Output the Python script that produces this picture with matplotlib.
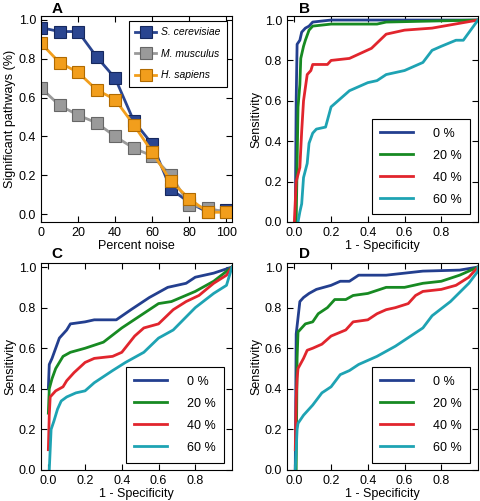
import numpy as np
import matplotlib
matplotlib.use('Agg')
import matplotlib.pyplot as plt

plt.rcParams['font.family'] = ['Liberation Sans', 'DejaVu Sans']
plt.rcParams['font.size'] = 9
plt.rcParams['xtick.direction'] = 'in'
plt.rcParams['ytick.direction'] = 'in'
plt.rcParams['xtick.top'] = True
plt.rcParams['ytick.right'] = True
plt.rcParams['xtick.major.size'] = 4
plt.rcParams['ytick.major.size'] = 4

# panel A
noise = [0, 10, 20, 30, 40, 50, 60, 70, 80, 90, 100]
s_cer = [0.96, 0.94, 0.94, 0.81, 0.70, 0.48, 0.36, 0.13, 0.06, 0.01, 0.02]
m_mus = [0.65, 0.56, 0.51, 0.47, 0.40, 0.34, 0.30, 0.20, 0.05, 0.03, 0.01]
h_sap = [0.88, 0.78, 0.73, 0.64, 0.59, 0.46, 0.32, 0.17, 0.08, 0.01, 0.01]

noise_labels = ['0 %', '20 %', '40 %', '60 %']
roc_colors = ['#233f8f', '#178a22', '#e1252d', '#1ea3b3']

# panel B: (1 - specificity, sensitivity)
b_fpr = [
    [0.005, 0.01, 0.015, 0.03, 0.04, 0.06, 0.08, 0.10, 0.20, 1.0],
    [0.01, 0.02, 0.03, 0.035, 0.05, 0.06, 0.08, 0.10, 0.20, 0.45, 0.50, 1.0],
    [0.0, 0.01, 0.03, 0.04, 0.05, 0.07, 0.09, 0.10, 0.18, 0.20, 0.30, 0.42, 0.50, 0.60, 0.75, 1.0],
    [0.02, 0.03, 0.04, 0.05, 0.07, 0.08, 0.10, 0.12, 0.17, 0.20, 0.25, 0.30, 0.40, 0.45,
     0.50, 0.60, 0.70, 0.75, 0.80, 0.88, 0.92, 1.0],
]
b_tpr = [
    [0.0, 0.60, 0.88, 0.90, 0.94, 0.96, 0.97, 0.99, 1.0, 1.0],
    [0.0, 0.57, 0.68, 0.81, 0.87, 0.90, 0.95, 0.97, 0.98, 0.98, 0.99, 1.0],
    [0.0, 0.20, 0.27, 0.45, 0.60, 0.73, 0.75, 0.78, 0.78, 0.80, 0.81, 0.86, 0.93, 0.95, 0.96, 1.0],
    [0.0, 0.05, 0.09, 0.22, 0.29, 0.39, 0.44, 0.46, 0.47, 0.57, 0.61, 0.65, 0.69, 0.70,
     0.73, 0.75, 0.79, 0.85, 0.87, 0.90, 0.90, 1.0],
]

# panel C
c_fpr = [
    [0.0, 0.005, 0.02, 0.04, 0.06, 0.08, 0.10, 0.12, 0.20, 0.25, 0.37, 0.45, 0.55, 0.65,
     0.75, 0.80, 0.90, 1.0],
    [0.0, 0.005, 0.02, 0.04, 0.06, 0.08, 0.12, 0.20, 0.30, 0.40, 0.50, 0.60, 0.67, 0.80,
     0.90, 1.0],
    [0.0, 0.005, 0.01, 0.04, 0.08, 0.10, 0.14, 0.20, 0.25, 0.35, 0.40, 0.47, 0.52, 0.60,
     0.68, 0.75, 0.82, 0.90, 0.97, 1.0],
    [0.005, 0.01, 0.015, 0.03, 0.05, 0.07, 0.10, 0.15, 0.20, 0.25, 0.35, 0.42, 0.52, 0.60,
     0.68, 0.80, 0.90, 0.97, 1.0],
]
c_tpr = [
    [0.40, 0.52, 0.55, 0.60, 0.65, 0.67, 0.69, 0.72, 0.73, 0.74, 0.74, 0.79, 0.85, 0.90,
     0.92, 0.95, 0.97, 1.0],
    [0.28, 0.40, 0.45, 0.50, 0.53, 0.56, 0.58, 0.60, 0.63, 0.70, 0.76, 0.82, 0.83, 0.88,
     0.93, 1.0],
    [0.10, 0.27, 0.36, 0.39, 0.41, 0.44, 0.48, 0.53, 0.55, 0.56, 0.58, 0.66, 0.70, 0.72,
     0.79, 0.83, 0.86, 0.92, 0.96, 1.0],
    [0.0, 0.10, 0.20, 0.24, 0.30, 0.34, 0.36, 0.38, 0.39, 0.43, 0.49, 0.53, 0.58, 0.65,
     0.69, 0.80, 0.87, 0.91, 1.0],
]

# panel D
d_fpr = [
    [0.005, 0.01, 0.02, 0.03, 0.05, 0.08, 0.12, 0.20, 0.25, 0.30, 0.35, 0.50, 0.60, 0.70,
     0.90, 1.0],
    [0.01, 0.015, 0.02, 0.04, 0.06, 0.10, 0.13, 0.18, 0.22, 0.28, 0.32, 0.40, 0.50, 0.60,
     0.70, 0.80, 0.90, 1.0],
    [0.005, 0.01, 0.015, 0.02, 0.05, 0.07, 0.10, 0.15, 0.20, 0.28, 0.32, 0.40, 0.45, 0.50,
     0.55, 0.62, 0.66, 0.70, 0.80, 0.88, 0.95, 1.0],
    [0.005, 0.01, 0.015, 0.02, 0.05, 0.10, 0.15, 0.20, 0.25, 0.30, 0.35, 0.45, 0.55, 0.65,
     0.70, 0.75, 0.85, 0.95, 1.0, 1.0],
]
d_tpr = [
    [0.0, 0.67, 0.75, 0.83, 0.85, 0.87, 0.89, 0.91, 0.93, 0.93, 0.96, 0.96, 0.97, 0.98,
     0.985, 1.0],
    [0.0, 0.55, 0.68, 0.70, 0.72, 0.73, 0.77, 0.80, 0.84, 0.84, 0.86, 0.87, 0.90, 0.90,
     0.92, 0.93, 0.96, 1.0],
    [0.10, 0.35, 0.45, 0.50, 0.55, 0.59, 0.60, 0.62, 0.66, 0.69, 0.73, 0.74, 0.77, 0.79,
     0.80, 0.82, 0.86, 0.88, 0.89, 0.91, 0.95, 1.0],
    [0.0, 0.10, 0.20, 0.23, 0.27, 0.32, 0.38, 0.41, 0.47, 0.49, 0.52, 0.56, 0.61, 0.67,
     0.70, 0.76, 0.83, 0.92, 0.98, 1.0],
]

W, H = 481, 501
fig = plt.figure(figsize=(W / 100, H / 100), dpi=100)


def box(l, t, r, b):
    return [l / W, 1 - b / H, (r - l) / W, (b - t) / H]


axA = fig.add_axes(box(41, 16, 232, 222))
axB = fig.add_axes(box(287, 16, 478, 222))
axC = fig.add_axes(box(41, 263, 232, 470))
axD = fig.add_axes(box(287, 263, 478, 470))

series = [(s_cer, 'S. cerevisiae', '#2a4590', '#16285e'),
          (m_mus, 'M. musculus', '#9a9a9a', '#666666'),
          (h_sap, 'H. sapiens', '#f29e1c', '#b06a00')]
for vals, lab, col, ec in series:
    axA.plot(noise, vals, '-s', color=col, lw=2, ms=9, mec=ec, mew=0.8, label=lab)
axA.set_xlim(0, 103)
axA.set_ylim(-0.04, 1.02)
axA.set_xticks([0, 20, 40, 60, 80, 100])
axA.set_yticks([0, 0.2, 0.4, 0.6, 0.8, 1.0])
axA.set_xlabel('Percent noise', labelpad=1)
axA.set_ylabel('Significant pathways (%)', labelpad=2)
leg = axA.legend(loc='upper right', prop={'style': 'italic', 'size': 7.5}, fancybox=False,
                 edgecolor='black', framealpha=1, handlelength=2.0, borderaxespad=0.5,
                 labelspacing=1.1, borderpad=0.6, handletextpad=0.5)
leg.get_frame().set_linewidth(0.8)

for ax, fprs, tprs in [(axB, b_fpr, b_tpr), (axC, c_fpr, c_tpr), (axD, d_fpr, d_tpr)]:
    for f, t, col, lab in zip(fprs, tprs, roc_colors, noise_labels):
        ax.plot(f, t, color=col, lw=2, label=lab)
    ax.set_xlim(-0.04, 1.0)
    ax.set_ylim(0, 1.02)
    ax.set_xticks([0, 0.2, 0.4, 0.6, 0.8])
    ax.set_yticks([0, 0.2, 0.4, 0.6, 0.8, 1.0])
    ax.set_xlabel('1 - Specificity', labelpad=1)
    ax.set_ylabel('Sensitivity', labelpad=2)
    lg = ax.legend(loc='lower right', fancybox=False, edgecolor='black', framealpha=1,
                   handlelength=2.6, handletextpad=1.6, borderaxespad=0.6, labelspacing=0.8,
                   borderpad=0.7)
    lg.get_frame().set_linewidth(0.8)

for lab, x, y in [('A', 57, 9), ('B', 305, 9), ('C', 57, 254), ('D', 305, 254)]:
    fig.text(x / W, 1 - y / H, lab, fontsize=11, fontweight='bold', ha='center', va='center')

fig.savefig('out.png', dpi=100)
